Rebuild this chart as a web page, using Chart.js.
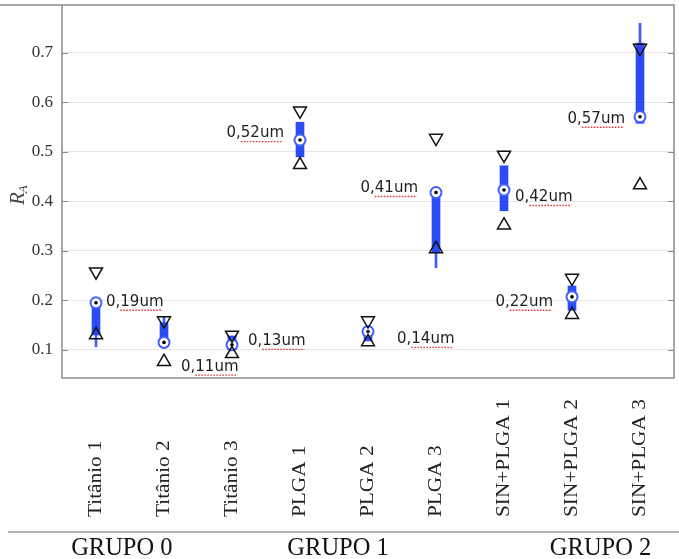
<!DOCTYPE html>
<html>
<head>
<meta charset="utf-8">
<script src="https://cdn.jsdelivr.net/npm/chart.js@4.4.1/dist/chart.umd.min.js"></script>
<style>
  html, body { margin:0; padding:0; background:#fff; overflow:hidden; }
  #wrap { width:679px; height:559px; }
</style>
</head>
<body>
<div id="wrap"><canvas id="c"></canvas></div>
<script>
// samples
const labels = ['Titânio 1','Titânio 2','Titânio 3','PLGA 1','PLGA 2','PLGA 3','SIN+PLGA 1','SIN+PLGA 2','SIN+PLGA 3'];
// thick blue box
const boxLow  = [0.130, 0.115, 0.100, 0.490, 0.118, 0.296, 0.381, 0.180, 0.558];
const boxHigh = [0.195, 0.155, 0.128, 0.560, 0.135, 0.418, 0.472, 0.229, 0.720];
// thin blue whisker
const whiskLow  = [0.106, 0.115, null, null, null, 0.266, null, null, 0.558];
const whiskHigh = [0.195, 0.166, null, null, null, 0.418, null, null, 0.760];
// circle marker and triangles
const median  = [0.195, 0.115, 0.110, 0.524, 0.137, 0.418, 0.423, 0.207, 0.571];
const maxMark = [0.258, 0.159, 0.130, 0.583, 0.159, 0.528, 0.494, 0.245, 0.710];
const minMark = [0.130, 0.076, 0.092, 0.474, 0.116, 0.304, 0.352, 0.171, 0.433];
// annotations
const noteText = ['0,19um','0,11um','0,13um','0,52um','0,14um','0,41um','0,42um','0,22um','0,57um'];
const noteY    = [0.197, 0.066, 0.118, 0.538, 0.122, 0.427, 0.409, 0.197, 0.567];
// groups and ticks
const groupNames = ['GRUPO 0','GRUPO 1','GRUPO 2'];
const groupAt    = [0.38, 3.56, 7.42];
const yTicks = [0.1, 0.2, 0.3, 0.4, 0.5, 0.6, 0.7];

const BLUE = '#2b4cf5';
const SERIF = "'Liberation Serif', 'Times New Roman', serif";

// pixel offsets of the notes from their sample (negative = text on the left)
const NOTE_DX = [10, 17, 16, -16, 29, -18, 11, -19, -15];

const deco = {
  id: 'deco',
  afterDraw(chart) {
    const { ctx, chartArea: a, scales: { x, y } } = chart;
    ctx.save();

    // frame
    ctx.strokeStyle = '#8c8c8c'; ctx.lineWidth = 1.5;
    ctx.beginPath();
    ctx.moveTo(0, a.top); ctx.lineTo(a.right, a.top);
    ctx.lineTo(a.right, a.bottom); ctx.lineTo(a.left, a.bottom); ctx.lineTo(a.left, a.top);
    ctx.stroke();

    // inner tick marks
    ctx.lineWidth = 1; ctx.strokeStyle = '#8c8c8c';
    yTicks.forEach(v => {
      const py = Math.round(y.getPixelForValue(v)) + 0.5;
      ctx.beginPath();
      ctx.moveTo(a.left, py); ctx.lineTo(a.left + 6, py);
      ctx.moveTo(a.right, py); ctx.lineTo(a.right - 6, py);
      ctx.stroke();
    });

    // notes with red dotted underline
    ctx.font = "15px 'DejaVu Sans', sans-serif";
    ctx.textBaseline = 'middle';
    noteText.forEach((t, i) => {
      const px = x.getPixelForValue(i) + NOTE_DX[i];
      const py = y.getPixelForValue(noteY[i]);
      const w = ctx.measureText(t).width;
      const x0 = NOTE_DX[i] > 0 ? px : px - w;
      ctx.fillStyle = '#1e1e1e';
      ctx.textAlign = 'left';
      ctx.fillText(t, x0, py);
      const wPre = ctx.measureText(t.split(',')[0] + ',').width;
      ctx.strokeStyle = '#e23a3a'; ctx.lineWidth = 1.4;
      ctx.setLineDash([1.6, 1.4]);
      ctx.beginPath(); ctx.moveTo(x0 + wPre, py + 8.5); ctx.lineTo(x0 + w - 1, py + 8.5); ctx.stroke();
      ctx.setLineDash([]);
    });

    // rotated category labels
    ctx.fillStyle = '#222';
    labels.forEach((t, i) => {
      ctx.save();
      ctx.translate(x.getPixelForValue(i), 517);
      ctx.rotate(-Math.PI / 2);
      ctx.scale(1.12, 1);
      ctx.font = '19px ' + SERIF;
      ctx.textAlign = 'left'; ctx.textBaseline = 'middle';
      ctx.fillText(t, 0, 0);
      ctx.restore();
    });

    // y title R_A
    ctx.save();
    ctx.translate(17, 193);
    ctx.rotate(-Math.PI / 2);
    ctx.fillStyle = '#444';
    ctx.textBaseline = 'alphabetic'; ctx.textAlign = 'left';
    ctx.font = 'italic 21px ' + SERIF;
    const wR = ctx.measureText('R').width;
    ctx.fillText('R', -12, 7);
    ctx.font = 'italic 13px ' + SERIF;
    ctx.fillText('A', -12 + wR - 1, 10);
    ctx.restore();

    // group separator and names
    ctx.strokeStyle = '#9a9a9a'; ctx.lineWidth = 1.5;
    ctx.beginPath(); ctx.moveTo(8, 532); ctx.lineTo(679, 532); ctx.stroke();
    ctx.fillStyle = '#111';
    ctx.font = '24.5px ' + SERIF;
    ctx.textAlign = 'center'; ctx.textBaseline = 'alphabetic';
    groupNames.forEach((g, i) => ctx.fillText(g, x.getPixelForValue(groupAt[i]), 555));

    ctx.restore();
  }
};

const marker = (data, extra, order) => Object.assign({
  type: 'line', data, showLine: false, order,
  pointHoverRadius: 0
}, extra);

new Chart(document.getElementById('c'), {
  type: 'bar',
  data: {
    labels,
    datasets: [
      { data: whiskLow.map((v, i) => v == null ? null : [v, whiskHigh[i]]), backgroundColor: '#3d5cff',
        barThickness: 2, grouped: false, order: 6 },
      { data: boxLow.map((v, i) => [v, boxHigh[i]]), backgroundColor: BLUE,
        barThickness: 8, grouped: false, order: 5 },
      marker(median, { pointStyle: 'circle', pointRadius: 5.5, pointBorderWidth: 2,
        pointBorderColor: '#3f5fff', pointBackgroundColor: '#fff' }, 4),
      marker(median, { pointStyle: 'circle', pointRadius: 1.8, pointBorderWidth: 0,
        pointBackgroundColor: '#000' }, 3),
      marker(maxMark, { pointStyle: 'triangle', rotation: 180, pointRadius: 7.5, pointBorderWidth: 1.5,
        pointBorderColor: '#111', pointBackgroundColor: 'rgba(0,0,0,0)' }, 2),
      marker(minMark, { pointStyle: 'triangle', pointRadius: 7.5, pointBorderWidth: 1.5,
        pointBorderColor: '#111', pointBackgroundColor: 'rgba(0,0,0,0)' }, 1)
    ]
  },
  options: {
    responsive: true, maintainAspectRatio: false, animation: false,
    layout: { autoPadding: false, padding: { top: 5, right: 5, left: 0, bottom: 0 } },
    plugins: { legend: { display: false }, tooltip: { enabled: false } },
    events: [],
    scales: {
      x: {
        grid: { display: false }, border: { display: false },
        ticks: { display: false },
        afterFit: s => { s.height = 181; s.paddingLeft = 0; s.paddingRight = 0; }
      },
      y: {
        min: 0.043, max: 0.797,
        afterBuildTicks: s => { s.ticks = yTicks.map(v => ({ value: v })); },
        afterFit: s => { s.width = 62; s.paddingTop = 0; s.paddingBottom = 0; },
        grid: { color: '#e6e6e6', lineWidth: 1, drawTicks: false },
        border: { display: false },
        ticks: { padding: 9, color: '#333', font: { family: SERIF, size: 17 },
          callback: v => v.toFixed(1) }
      }
    }
  },
  plugins: [deco]
});
</script>
</body>
</html>
